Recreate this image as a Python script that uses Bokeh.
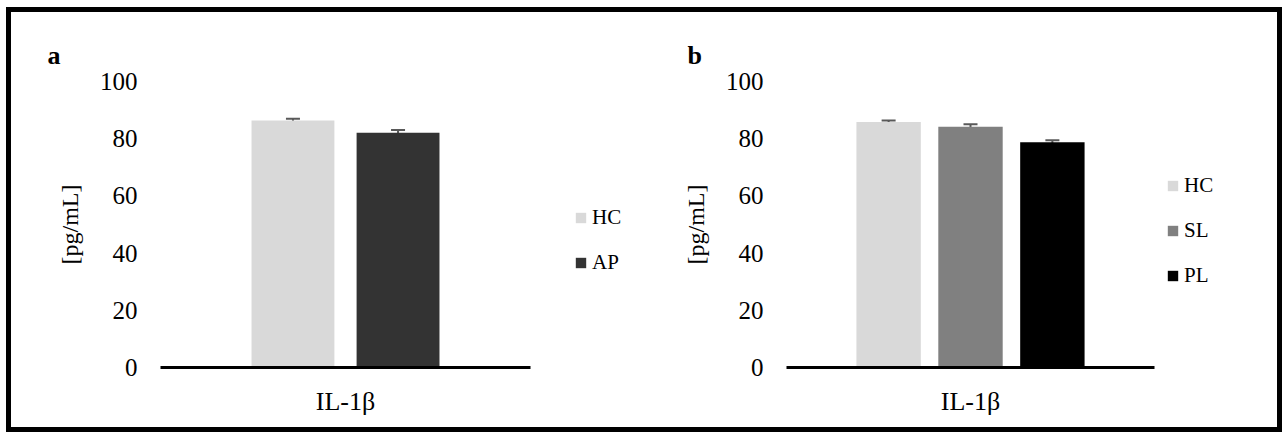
from bokeh.plotting import figure
from bokeh.layouts import row
from bokeh.models import (ColumnDataSource, Range1d, Whisker, TeeHead,
                          FixedTicker, Legend, LegendItem)
from bokeh.transform import dodge
from bokeh.embed import file_html
from bokeh.resources import INLINE

# ---------------- data ----------------
categories = ["IL-1β"]

groups_a = ["HC", "AP"]
means_a = [86.4, 82.1]
errs_a = [0.6, 0.9]
colors_a = ["#d9d9d9", "#333333"]

groups_b = ["HC", "SL", "PL"]
means_b = [85.8, 84.2, 78.8]
errs_b = [0.55, 0.85, 0.65]
colors_b = ["#d9d9d9", "#808080", "#000000"]

y_ticks = [0, 20, 40, 60, 80, 100]
y_label = "[pg/mL]"

# ---------------- styles / layout ----------------
FONT = "Liberation Serif"
ERR_COLOR = "#595959"
FIG_H = 415
TOP = 69
FRAME_H = 286


def make_panel(letter, groups, means, errs, colors, width, left_border, band_px,
               offsets, bar_w, legend_loc, title_offset):
    # category bands occupy [0, n]; the rest of the frame to the right holds the legend
    n = len(categories)
    frame_px = width - left_border
    x_end = n * frame_px / band_px
    cat_pos = [i + 0.5 for i in range(n)]

    p = figure(x_range=Range1d(0, x_end), y_range=Range1d(0, 100),
               width=width, height=FIG_H, output_backend="svg", toolbar_location=None,
               min_border_left=left_border, min_border_right=0,
               min_border_top=TOP, min_border_bottom=FIG_H - TOP - FRAME_H)
    p.outline_line_color = None
    p.xgrid.grid_line_color = None
    p.ygrid.grid_line_color = None
    p.background_fill_color = "white"
    p.border_fill_color = "white"

    items = []
    for g, m, e, c, off in zip(groups, means, errs, colors, offsets):
        src = ColumnDataSource(dict(pos=cat_pos, val=[m], upper=[m + e], lower=[m - e]))
        r = p.vbar(x=dodge("pos", off), top="val", width=bar_w, source=src,
                   fill_color=c, line_color=None)
        items.append(LegendItem(label=g, renderers=[r]))
        w = Whisker(base=dodge("pos", off), upper="upper", lower="lower",
                    source=src, line_color=ERR_COLOR, line_width=2,
                    upper_head=TeeHead(size=14, line_color=ERR_COLOR, line_width=2),
                    lower_head=TeeHead(size=14, line_color=ERR_COLOR, line_width=2))
        p.add_layout(w)

    # y axis
    ya = p.yaxis[0]
    ya.ticker = FixedTicker(ticks=y_ticks)
    ya.axis_line_color = None
    ya.major_tick_line_color = None
    ya.minor_tick_line_color = None
    ya.major_tick_out = 0
    ya.major_tick_in = 0
    ya.major_label_standoff = 23
    ya.major_label_text_font = FONT
    ya.major_label_text_font_size = "25px"
    ya.major_label_text_color = "black"
    ya.axis_label = y_label
    ya.axis_label_text_font = FONT
    ya.axis_label_text_font_style = "normal"
    ya.axis_label_text_font_size = "24px"
    ya.axis_label_text_color = "black"
    ya.axis_label_standoff = 14

    # x axis: line only over the category bands, category names as tick labels
    xa = p.xaxis[0]
    xa.bounds = (0, n)
    xa.ticker = FixedTicker(ticks=cat_pos)
    xa.major_label_overrides = {pos: cat for pos, cat in zip(cat_pos, categories)}
    xa.axis_line_color = "black"
    xa.axis_line_width = 3
    xa.major_tick_line_color = None
    xa.minor_tick_line_color = None
    xa.major_tick_out = 0
    xa.major_tick_in = 0
    xa.major_label_standoff = 19
    xa.major_label_text_font = FONT
    xa.major_label_text_font_size = "26px"
    xa.major_label_text_color = "black"

    # legend
    lg = Legend(items=items, location=legend_loc)
    lg.border_line_color = None
    lg.background_fill_alpha = 0
    lg.padding = 0
    lg.margin = 0
    lg.spacing = 20
    lg.glyph_width = 13
    lg.glyph_height = 13
    lg.label_height = 25
    lg.label_standoff = 5
    lg.label_text_font = FONT
    lg.label_text_font_size = "21px"
    lg.label_text_color = "black"
    p.add_layout(lg, "center")

    # panel letter as title
    p.title.text = letter
    p.title.text_font = FONT
    p.title.text_font_size = "26px"
    p.title.text_font_style = "bold"
    p.title.text_color = "black"
    p.title.align = "left"
    p.title.offset = title_offset
    p.title.standoff = 23
    return p


pa = make_panel("a", groups_a, means_a, errs_a, colors_a, width=629, left_border=149,
                band_px=370, offsets=[-0.142, 0.142], bar_w=0.224,
                legend_loc=(414, 92), title_offset=-113)
pb = make_panel("b", groups_b, means_b, errs_b, colors_b, width=637, left_border=146,
                band_px=368, offsets=[-0.2225, 0.0, 0.2225], bar_w=0.175,
                legend_loc=(380, 79), title_offset=-99)

layout = row(pa, pb, styles={"border": "5px solid black", "background": "white",
                             "margin-left": "6px", "margin-top": "7px"})

open("out.html", "w").write(file_html(layout, INLINE))
